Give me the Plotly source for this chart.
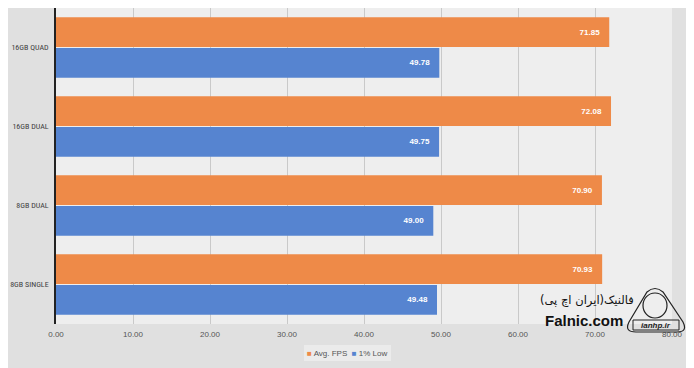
import plotly.graph_objects as go

categories = ["16GB QUAD", "16GB DUAL", "8GB DUAL", "8GB SINGLE"]
avg_fps = [71.85, 72.08, 70.90, 70.93]
low_1pct = [49.78, 49.75, 49.00, 49.48]
x_ticks = [0, 10, 20, 30, 40, 50, 60, 70, 80]
series_names = ["Avg. FPS", "1% Low"]

ORANGE = "#EE8A48"
BLUE = "#5684D0"
FONT = "Liberation Sans, Arial, sans-serif"
NARROW = "Liberation Sans Narrow, Roboto Condensed, Liberation Sans, sans-serif"

# page is rendered with the browser's default 8px body margin
W, H = 686, 360
ML, MT, MR, MB = 48, 0, 22, 44
PW, PH = W - ML - MR, H - MT - MB
OFF = 8


def px(xp):
    return (xp - OFF - ML) / PW


def py(yp):
    return (OFF + MT + PH - yp) / PH


PAD = "\u00a0\u00a0\u00a0"

fig = go.Figure()
for name, vals, col in [(series_names[0], avg_fps, ORANGE), (series_names[1], low_1pct, BLUE)]:
    fig.add_trace(go.Bar(
        y=categories, x=vals, orientation="h", name=name,
        marker=dict(color=col, line=dict(width=0)),
        text=[f"<b>{v:.2f}</b>{PAD}" for v in vals], textposition="inside",
        insidetextanchor="end", textangle=0,
        textfont=dict(color="white", size=8, family=FONT),
        showlegend=False,
    ))

fig.update_layout(
    width=W, height=H,
    margin=dict(l=ML, r=MR, t=MT, b=MB, autoexpand=False),
    paper_bgcolor="#e0e0e0",
    plot_bgcolor="#eeeeee",
    barmode="group",
    bargap=0.22,
    bargroupgap=0.04,
    font=dict(family=FONT, size=8, color="#555555"),
    uniformtext=dict(minsize=7, mode="show"),
)
fig.update_xaxes(
    range=[0, 80], tickvals=x_ticks, tickformat=".2f",
    showgrid=True, gridcolor="#c9c9c9", gridwidth=1,
    zeroline=False, showline=False,
    ticks="outside", ticklen=2, tickcolor="rgba(0,0,0,0)",
    tickfont=dict(size=8, color="#555555"),
)
fig.update_yaxes(
    autorange="reversed", showline=True, linecolor="#222222", linewidth=1.5,
    ticks="outside", ticklen=4, tickcolor="rgba(0,0,0,0)",
    tickfont=dict(size=8, color="#404040", family=NARROW),
    showgrid=False,
)

# legend drawn as text with coloured squares
fig.add_shape(type="rect", xref="paper", yref="paper",
              x0=px(304), x1=px(391), y0=py(361), y1=py(345),
              fillcolor="#ebebeb", line=dict(width=0), layer="below")
fig.add_annotation(
    xref="paper", yref="paper", x=px(347), y=py(353), xanchor="center", yanchor="middle",
    showarrow=False,
    text=(f"<span style='color:{ORANGE}'>■</span> {series_names[0]}  "
          f"<span style='color:{BLUE}'>■</span> {series_names[1]}"),
    font=dict(size=8, color="#555555", family=FONT),
)

# watermark
fig.add_annotation(xref="paper", yref="paper", x=px(587), y=py(300),
                   xanchor="center", yanchor="middle",
                   text="فالنیک(ایران اچ پی)", showarrow=False,
                   font=dict(size=11.5, color="#111111", family="DejaVu Sans"))
fig.add_annotation(xref="paper", yref="paper", x=px(584), y=py(320),
                   xanchor="center", yanchor="middle",
                   text="<b>Falnic.com</b>", showarrow=False,
                   font=dict(size=15, color="#111111", family="Liberation Sans"))
logo = (f"M {px(636)},{py(332)} L {px(677)},{py(332)} "
        f"Q {px(688)},{py(332)} {px(683)},{py(322)} "
        f"L {px(663)},{py(292)} Q {px(655)},{py(285)} {px(647)},{py(292)} "
        f"L {px(629)},{py(322)} Q {px(624)},{py(332)} {px(636)},{py(332)} Z")
fig.add_shape(type="path", xref="paper", yref="paper", path=logo,
              line=dict(color="#222222", width=1.2))
fig.add_shape(type="circle", xref="paper", yref="paper",
              x0=px(643), x1=px(667), y0=py(318), y1=py(293),
              line=dict(color="#222222", width=1.2))
fig.add_shape(type="rect", xref="paper", yref="paper",
              x0=px(633), x1=px(679), y0=py(330), y1=py(320),
              line=dict(color="#222222", width=1))
fig.add_annotation(xref="paper", yref="paper", x=px(656), y=py(325),
                   xanchor="center", yanchor="middle",
                   text="<i><b>ianhp.ir</b></i>", showarrow=False,
                   font=dict(size=8, color="#222222", family="Liberation Sans"))

fig.write_html("out.html")
